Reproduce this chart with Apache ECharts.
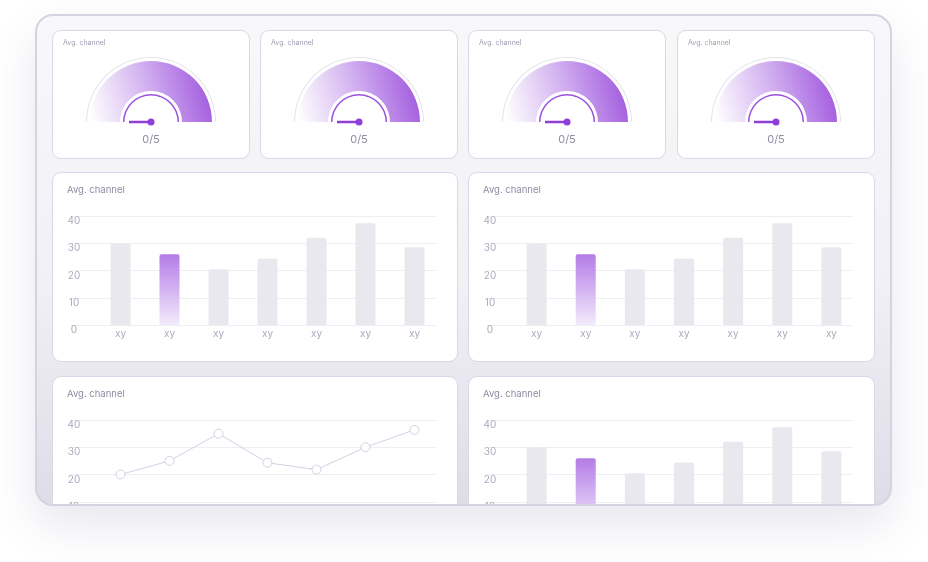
<!DOCTYPE html>
<html>
<head>
<meta charset="UTF-8">
<title>Dashboard</title>
<script src="https://cdn.jsdelivr.net/npm/echarts@6/dist/echarts.min.js"></script>
<style>
    html, body{
        margin: 0;
        padding: 0;
        background: #fff;
        font-family: Inter, "Noto Sans", sans-serif;
    }
    body{
        width: 928px;
        height: 562px;
        position: relative;
        overflow: hidden;
    }
    .board{
        position: absolute;
        left: 35px;
        top: 14px;
        width: 857px;
        height: 492px;
        box-sizing: border-box;
        border: 2px solid #d5d2e2;
        border-radius: 18px;
        overflow: hidden;
        background: linear-gradient(#f8f8fa, #f1f0f5 55%, #dedce8);
        box-shadow: 0 20px 45px rgba(80, 70, 130, 0.13);
    }
    .card{
        position: absolute;
        box-sizing: border-box;
        border: 1.5px solid #dad7e6;
        border-radius: 9px;
        background: #fff;
        overflow: hidden;
    }
    .card > div{
        width: 100%;
        height: 100%;
    }
    .small{ top: 14px; width: 198px; height: 129px; }
    .mid{ top: 156px; height: 190px; }
    .low{ top: 360px; height: 190px; }
</style>
</head>
<body>
    <div class="board">
        <div class="card small" style="left:15px"><div id="g1"></div></div>
        <div class="card small" style="left:223px"><div id="g2"></div></div>
        <div class="card small" style="left:431px"><div id="g3"></div></div>
        <div class="card small" style="left:640px"><div id="g4"></div></div>

        <div class="card mid" style="left:15px;width:406px"><div id="b1"></div></div>
        <div class="card mid" style="left:431px;width:407px"><div id="b2"></div></div>

        <div class="card low" style="left:15px;width:406px"><div id="l1"></div></div>
        <div class="card low" style="left:431px;width:407px"><div id="b3"></div></div>
    </div>
    <script type="text/javascript">
        // 数据
        var cardTitle = 'Avg. channel'
        var gaugeValues = [0, 0, 0, 0]
        var gaugeMax = 5
        var categories = ['xy', 'xy', 'xy', 'xy', 'xy', 'xy', 'xy']
        var barValues = [30, 26, 20.5, 24.4, 32, 37.3, 28.5]
        var lineValues = [20, 25, 35, 24.3, 21.8, 30, 36.4]
        var yMin = 0
        var yMax = 40
        var yStep = 10
        var activeBar = 1

        var labelColor = '#aeaabf'
        var titleColor = '#8f8aa3'
        var gridColor = '#efeef4'

        function offAxis(){
            return {
                axisTick: {show: false},
                splitLine: {show: false},
                axisLabel: {show: false},
                pointer: {show: false},
                detail: {show: false},
                title: {show: false}
            }
        }

        function gaugeOption(val){
            var base = {
                type: 'gauge',
                center: [98, 91],
                startAngle: 180,
                endAngle: 0,
                min: 0,
                max: gaugeMax,
                animation: false
            }
            var ring = Object.assign({}, base, offAxis(), {
                radius: 65,
                axisLine: {lineStyle: {width: 1, color: [[1, '#e4e2eb']]}},
                data: [{value: val}]
            })
            var inner = Object.assign({}, base, offAxis(), {
                radius: 28,
                axisLine: {lineStyle: {width: 1.5, color: [[1, '#9b50dd']]}},
                data: [{value: val}]
            })
            var band = Object.assign({}, base, {
                radius: 61,
                axisLine: {
                    lineStyle: {
                        width: 30,
                        color: [[1, new echarts.graphic.LinearGradient(0, 0.9, 1, 0.35, [
                            {offset: 0, color: '#ffffff'},
                            {offset: 0.45, color: '#d6b8f1'},
                            {offset: 1, color: '#9f55de'}
                        ])]]
                    }
                },
                axisTick: {show: false},
                splitLine: {show: false},
                axisLabel: {show: false},
                pointer: {
                    show: true,
                    icon: 'rect',
                    length: 22,
                    width: 2.5,
                    offsetCenter: [0, 0],
                    itemStyle: {color: '#8d3fd8'}
                },
                anchor: {
                    show: true,
                    showAbove: true,
                    size: 7,
                    itemStyle: {color: '#8d3fd8'}
                },
                title: {show: false},
                detail: {
                    offsetCenter: [0, 18],
                    fontSize: 11,
                    fontWeight: 'normal',
                    color: '#8f8ba2',
                    fontFamily: 'Inter',
                    formatter: function(v){ return v + '/' + gaugeMax }
                },
                data: [{value: val}]
            })
            return {
                title: {
                    text: cardTitle, left: 10, top: 8, padding: 0,
                    textStyle: {fontSize: 7, fontWeight: 'normal', color: '#a19db3', fontFamily: 'Inter'}
                },
                series: [ring, band, inner]
            }
        }

        function baseGridOption(){
            return {
                animation: false,
                title: {
                    text: cardTitle, left: 14, top: 12, padding: 0,
                    textStyle: {fontSize: 9.5, fontWeight: 'normal', color: titleColor, fontFamily: 'Inter'}
                },
                grid: [
                    {left: 18, right: 21, top: 43, bottom: 36},
                    {left: 43, right: 18, top: 43, bottom: 36}
                ],
                xAxis: [
                    {gridIndex: 0, type: 'category', data: categories, show: false},
                    {
                        gridIndex: 1, type: 'category', data: categories,
                        axisLine: {show: false}, axisTick: {show: false},
                        axisLabel: {color: labelColor, fontSize: 10, margin: 4, fontFamily: 'Inter'}
                    }
                ],
                yAxis: [
                    {
                        gridIndex: 0, type: 'value', min: yMin, max: yMax, interval: yStep,
                        axisLine: {show: false}, axisTick: {show: false},
                        axisLabel: {
                            inside: true, align: 'center', verticalAlign: 'top', margin: 3,
                            color: labelColor, fontSize: 10, fontFamily: 'Inter'
                        },
                        splitLine: {lineStyle: {color: gridColor, width: 1}}
                    },
                    {gridIndex: 1, type: 'value', min: yMin, max: yMax, show: false, splitLine: {show: false}}
                ]
            }
        }

        function barOption(){
            var opt = baseGridOption()
            opt.series = [{
                type: 'bar',
                xAxisIndex: 1,
                yAxisIndex: 1,
                barWidth: 20,
                itemStyle: {color: '#e9e8ef', borderRadius: [2, 2, 0, 0]},
                data: barValues.map(function(v, i){
                    if(i !== activeBar) return v
                    return {
                        value: v,
                        itemStyle: {
                            color: new echarts.graphic.LinearGradient(0, 0, 0, 1, [
                                {offset: 0, color: '#b47be6'},
                                {offset: 1, color: '#f3ebfc'}
                            ])
                        }
                    }
                })
            }]
            return opt
        }

        function lineOption(){
            var opt = baseGridOption()
            opt.series = [{
                type: 'line',
                xAxisIndex: 1,
                yAxisIndex: 1,
                symbol: 'circle',
                symbolSize: 9,
                itemStyle: {color: '#fff', borderColor: '#d3cfe2', borderWidth: 1},
                lineStyle: {color: '#d3cfe2', width: 1},
                data: lineValues
            }]
            return opt
        }

        ['g1', 'g2', 'g3', 'g4'].forEach(function(id, i){
            echarts.init(document.getElementById(id)).setOption(gaugeOption(gaugeValues[i]))
        })
        ;['b1', 'b2', 'b3'].forEach(function(id){
            echarts.init(document.getElementById(id)).setOption(barOption())
        })
        echarts.init(document.getElementById('l1')).setOption(lineOption())
    </script>
</body>
</html>
